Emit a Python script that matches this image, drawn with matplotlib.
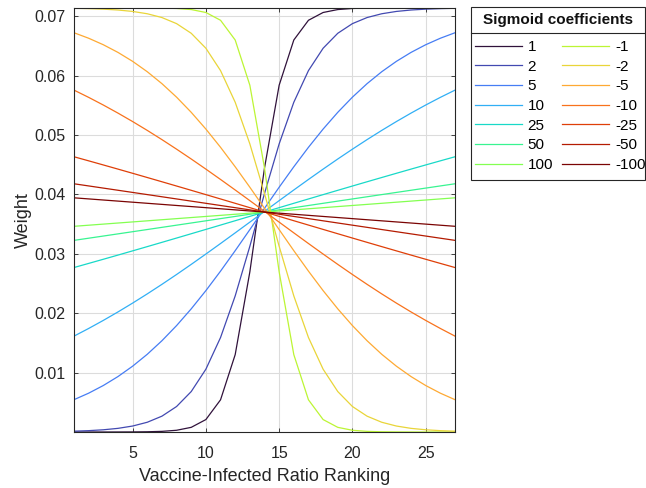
import matplotlib
matplotlib.use("Agg")
import matplotlib.pyplot as plt
from matplotlib.lines import Line2D
from matplotlib.patches import Rectangle
import numpy as np

plt.rcParams['font.family'] = ['Liberation Sans', 'DejaVu Sans']

ranks = list(range(1, 28))
coefficients = [1, 2, 5, 10, 25, 50, 100, -1, -2, -5, -10, -25, -50, -100]

w_p1 = [0.0000003, 0.0000007, 0.000002, 0.0000054, 0.0000145, 0.0000395, 0.000107,
        0.000291, 0.000785, 0.002094, 0.005419, 0.013031, 0.026967, 0.044461,
        0.058398, 0.066010, 0.069335, 0.070644, 0.071138, 0.071321, 0.071389,
        0.071414, 0.071424, 0.071427, 0.071428, 0.071428, 0.071429]
w_p2 = [0.000138, 0.000227, 0.000373, 0.000613, 0.001005, 0.001641, 0.002666,
        0.004292, 0.006811, 0.010576, 0.015909, 0.022918, 0.031276, 0.040159,
        0.048517, 0.055526, 0.060859, 0.064623, 0.067142, 0.068768, 0.069793,
        0.070430, 0.070822, 0.071062, 0.071208, 0.071297, 0.071351]
w_p5 = [0.005443, 0.006538, 0.007828, 0.009335, 0.011083, 0.013089, 0.015367,
        0.017919, 0.020740, 0.023808, 0.027089, 0.030534, 0.034083, 0.037667,
        0.041217, 0.044662, 0.047943, 0.051011, 0.053832, 0.056384, 0.058662,
        0.060668, 0.062416, 0.063923, 0.065213, 0.066308, 0.067233]
w_p10 = [0.016145, 0.017434, 0.018792, 0.020217, 0.021707, 0.023258, 0.024865,
         0.026523, 0.028227, 0.029968, 0.031740, 0.033534, 0.035341, 0.037153,
         0.038961, 0.040755, 0.042527, 0.044268, 0.045971, 0.047629, 0.049237,
         0.050788, 0.052278, 0.053702, 0.055061, 0.056350, 0.057570]
w_p25 = [0.027696, 0.028389, 0.029088, 0.029792, 0.030503, 0.031218, 0.031937,
         0.032661, 0.033387, 0.034116, 0.034846, 0.035579, 0.036312, 0.037046,
         0.037779, 0.038512, 0.039243, 0.039972, 0.040698, 0.041421, 0.042140,
         0.042855, 0.043566, 0.044271, 0.044970, 0.045663, 0.046349]
w_p50 = [0.032271, 0.032634, 0.032998, 0.033363, 0.033729, 0.034095, 0.034462,
         0.034829, 0.035196, 0.035564, 0.035933, 0.036301, 0.036669, 0.037038,
         0.037406, 0.037775, 0.038143, 0.038511, 0.038879, 0.039246, 0.039613,
         0.039979, 0.040344, 0.040709, 0.041073, 0.041437, 0.041799]
w_p100 = [0.034639, 0.034823, 0.035007, 0.035191, 0.035376, 0.035560, 0.035745,
          0.035929, 0.036114, 0.036298, 0.036483, 0.036668, 0.036852, 0.037037,
          0.037222, 0.037407, 0.037591, 0.037776, 0.037961, 0.038145, 0.038330,
          0.038514, 0.038699, 0.038883, 0.039067, 0.039251, 0.039435]
w_m1 = [0.071429, 0.071428, 0.071428, 0.071427, 0.071424, 0.071414, 0.071389,
        0.071321, 0.071138, 0.070644, 0.069335, 0.066010, 0.058398, 0.044461,
        0.026967, 0.013031, 0.005419, 0.002094, 0.000785, 0.000291, 0.000107,
        0.0000395, 0.0000145, 0.0000054, 0.000002, 0.0000007, 0.0000003]
w_m2 = [0.071351, 0.071297, 0.071208, 0.071062, 0.070822, 0.070430, 0.069793,
        0.068768, 0.067142, 0.064623, 0.060859, 0.055526, 0.048517, 0.040159,
        0.031276, 0.022918, 0.015909, 0.010576, 0.006811, 0.004292, 0.002666,
        0.001641, 0.001005, 0.000613, 0.000373, 0.000227, 0.000138]
w_m5 = [0.067233, 0.066308, 0.065213, 0.063923, 0.062416, 0.060668, 0.058662,
        0.056384, 0.053832, 0.051011, 0.047943, 0.044662, 0.041217, 0.037667,
        0.034083, 0.030534, 0.027089, 0.023808, 0.020740, 0.017919, 0.015367,
        0.013089, 0.011083, 0.009335, 0.007828, 0.006538, 0.005443]
w_m10 = [0.057570, 0.056350, 0.055061, 0.053702, 0.052278, 0.050788, 0.049237,
         0.047629, 0.045971, 0.044268, 0.042527, 0.040755, 0.038961, 0.037153,
         0.035341, 0.033534, 0.031740, 0.029968, 0.028227, 0.026523, 0.024865,
         0.023258, 0.021707, 0.020217, 0.018792, 0.017434, 0.016145]
w_m25 = [0.046349, 0.045663, 0.044970, 0.044271, 0.043566, 0.042855, 0.042140,
         0.041421, 0.040698, 0.039972, 0.039243, 0.038512, 0.037779, 0.037046,
         0.036312, 0.035579, 0.034846, 0.034116, 0.033387, 0.032661, 0.031937,
         0.031218, 0.030503, 0.029792, 0.029088, 0.028389, 0.027696]
w_m50 = [0.041799, 0.041437, 0.041073, 0.040709, 0.040344, 0.039979, 0.039613,
         0.039246, 0.038879, 0.038511, 0.038143, 0.037775, 0.037406, 0.037038,
         0.036669, 0.036301, 0.035933, 0.035564, 0.035196, 0.034829, 0.034462,
         0.034095, 0.033729, 0.033363, 0.032998, 0.032634, 0.032271]
w_m100 = [0.039435, 0.039251, 0.039067, 0.038883, 0.038699, 0.038514, 0.038330,
          0.038145, 0.037961, 0.037776, 0.037591, 0.037407, 0.037222, 0.037037,
          0.036852, 0.036668, 0.036483, 0.036298, 0.036114, 0.035929, 0.035745,
          0.035560, 0.035376, 0.035191, 0.035007, 0.034823, 0.034639]

series = [w_p1, w_p2, w_p5, w_p10, w_p25, w_p50, w_p100,
          w_m1, w_m2, w_m5, w_m10, w_m25, w_m50, w_m100]

xticks = [5, 10, 15, 20, 25]
yticks = [0.01, 0.02, 0.03, 0.04, 0.05, 0.06, 0.07]

W, H = 646, 488
fig = plt.figure(figsize=(W / 100, H / 100), dpi=100)
ax = fig.add_axes([74 / W, 1 - 432 / H, (455 - 74) / W, (432 - 8) / H])

cmap = plt.get_cmap('turbo')
colors = [cmap(v) for v in np.linspace(0.0, 1.0, len(coefficients))]

for coef, vals, col in zip(coefficients, series, colors):
    ax.plot(ranks, vals, color=col, lw=0.9, label=str(coef))

ax.set_xlim(1, 27)
ax.set_ylim(0, 0.0714)
ax.set_xticks(xticks)
ax.set_yticks(yticks)
ax.set_yticklabels([f"{v:.2f}" for v in yticks])
ax.grid(True, color='#dcdcdc', lw=0.8)
ax.set_axisbelow(True)
ax.tick_params(direction='in', length=3, width=0.6, colors='#262626',
               labelsize=11.5, top=True, right=True)
ax.tick_params(axis='x', pad=10)
ax.tick_params(axis='y', pad=6)
for sp in ax.spines.values():
    sp.set_color('#262626')
    sp.set_linewidth(0.8)
ax.set_xlabel('Vaccine-Infected Ratio Ranking', fontsize=13, color='#262626', labelpad=5)
ax.set_ylabel('Weight', fontsize=13, color='#262626', labelpad=2)

# legend box with title and separator line
fig.add_artist(Rectangle((471 / W, 1 - 180 / H), 174 / W, 173 / H,
                         transform=fig.transFigure, fill=False,
                         ec='#262626', lw=0.8))
fig.add_artist(Line2D([471 / W, 645 / W], [1 - 33 / H, 1 - 33 / H],
                      transform=fig.transFigure, color='#262626', lw=0.8))
fig.text(558 / W, 1 - 20 / H, 'Sigmoid coefficients', ha='center', va='center',
         fontsize=11, fontweight='bold', color='#111111')

leg = fig.legend(loc='upper left', bbox_to_anchor=(475 / W, 1 - 40 / H), ncol=2,
                 fontsize=11, frameon=False,
                 handlelength=3.05, handletextpad=0.4, columnspacing=0.6,
                 labelspacing=0.37, borderpad=0.0, borderaxespad=0.0)

fig.savefig('out.png', dpi=100)
